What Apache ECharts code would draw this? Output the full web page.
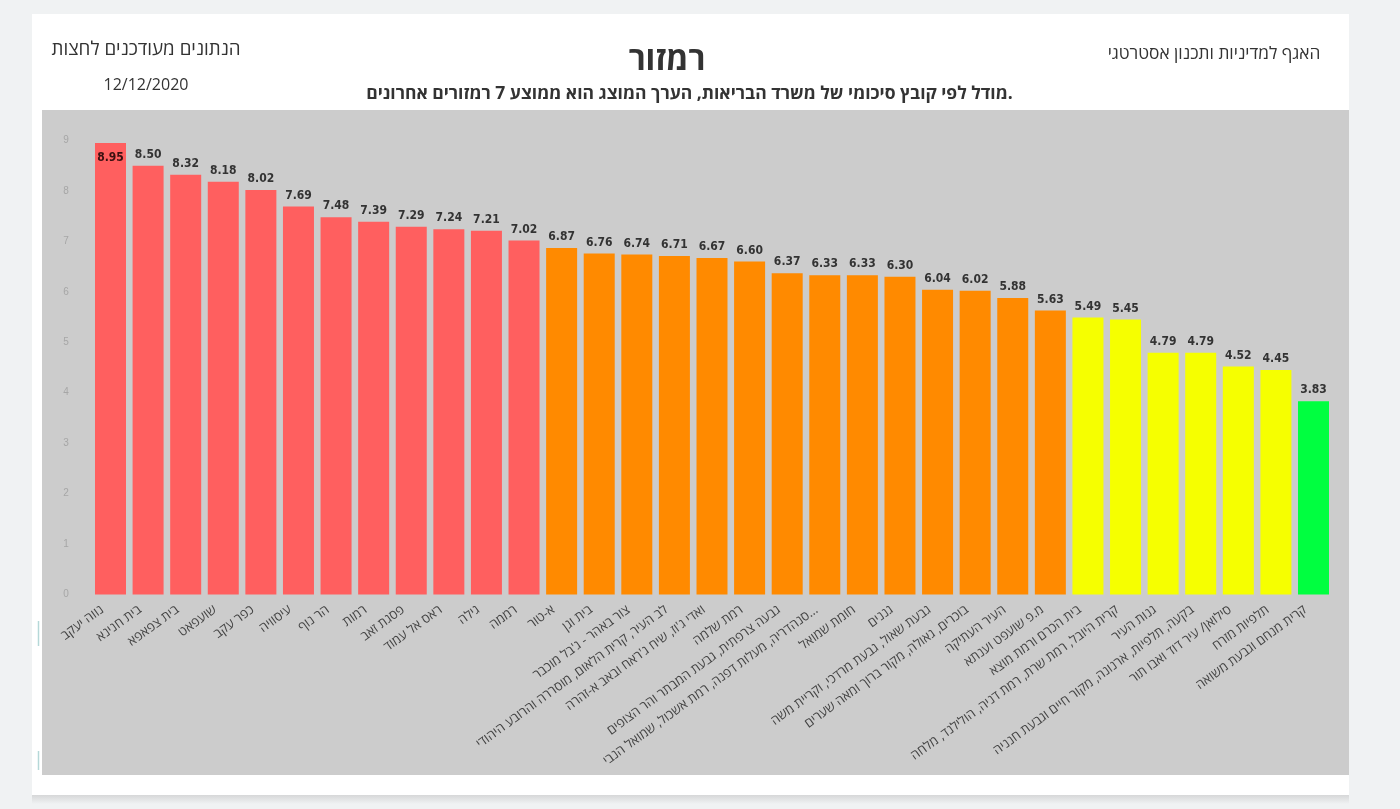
<!DOCTYPE html>
<html>
<head>
<meta charset="utf-8">
<script src="https://cdn.jsdelivr.net/npm/echarts@6/dist/echarts.min.js"></script>
<style>
html, body { margin: 0; padding: 0; background: #f0f2f3; }
#container { width: 1400px; height: 809px; }
</style>
</head>
<body>
<div id="container"></div>
<script>
/*שכונות*/
var neighborhoods = [
    "נווה יעקב", "בית חנינא", "בית צפאפא", "שועפאט", "כפר עקב", "עיסוויה",
    "הר נוף", "רמות", "פסגת זאב", "ראס אל עמוד", "גילה", "רממה",
    "א-טור", "בית וגן", "צור באהר - ג'בל מוכבר",
    "לב העיר, קרית הלאום, מוסררה והרובע היהודי",
    "ואדי ג'וז, שיח ג'ראח ובאב א-זהרה", "רמת שלמה",
    "גבעה צרפתית, גבעת המבתר והר הצופים",
    "סנהדריה, מעלות דפנה, רמת אשכול, שמואל הנבי...",
    "חומת שמואל", "גננים", "גבעת שאול, גבעת מרדכי, וקריית משה",
    "בוכרים, גאולה, מקור ברוך ומאה שערים", "העיר העתיקה", "מ.פ שועפט וענתא",
    "בית הכרם ורמת מוצא", "קרית היובל, רמת שרת, רמת דניה, הולילנד, מלחה",
    "גנות העיר", "בקעה, תלפיות, ארנונה, מקור חיים וגבעת חנניה",
    "סילואן/ עיר דוד ואבו תור", "תלפיות מזרח", "קרית מנחם וגבעת משואה"
];
/*ציון רמזור*/
var scores = [
    8.95, 8.50, 8.32, 8.18, 8.02, 7.69, 7.48, 7.39, 7.29, 7.24, 7.21, 7.02,
    6.87, 6.76, 6.74, 6.71, 6.67, 6.60, 6.37, 6.33, 6.33, 6.30, 6.04, 6.02,
    5.88, 5.63, 5.49, 5.45, 4.79, 4.79, 4.52, 4.45, 3.83
];
var yTicks = [0, 9];

var labelFont = '"DejaVu Sans Condensed", Roboto, sans-serif';
var hebrewFont = '"Open Sans", "Liberation Sans", sans-serif';

function scoreColor(v) {
    if (v >= 7) return '#ff5f5f';
    if (v >= 5.5) return '#ff8a00';
    if (v >= 4) return '#f6ff00';
    return '#00ff40';
}

var barData = scores.map(function (v, i) {
    var item = { value: v, itemStyle: { color: scoreColor(v) } };
    /*העמודה הראשונה - התווית בתוך העמודה*/
    if (i === 0) {
        item.label = { position: 'insideTop', distance: 9, color: '#3a1010' };
    }
    return item;
});

/*סימני הטורקיז בשוליים*/
function edgeMark(y1, y2) {
    return {
        type: 'line', z: -1,
        shape: { x1: 38.5, y1: y1, x2: 38.5, y2: y2 },
        style: { stroke: '#b5d8d8', lineWidth: 1.5 }
    };
}

var myChart = echarts.init(document.getElementById('container'));

var option = {
    animation: false,
    backgroundColor: '#f0f2f3',
    graphic: [
        {
            type: 'rect', z: -3,
            shape: { x: 32, y: 795, width: 1317, height: 9 },
            style: {
                fill: new echarts.graphic.LinearGradient(0, 0, 0, 1, [
                    { offset: 0, color: '#d6d7d8' },
                    { offset: 1, color: '#f0f2f3' }
                ])
            }
        },
        { type: 'rect', z: -2, shape: { x: 32, y: 14, width: 1317, height: 781 }, style: { fill: '#fff' } },
        { type: 'rect', z: -1, shape: { x: 42, y: 110, width: 1307, height: 665 }, style: { fill: '#cccccc' } },
        edgeMark(621, 646),
        edgeMark(751, 770)
    ],
    title: [
        {
            text: 'רמזור', left: 662, top: 40, textAlign: 'center',
            textStyle: { fontFamily: hebrewFont, fontSize: 32, fontWeight: 'bold', color: '#333' }
        },
        {
            text: 'מודל לפי קובץ סיכומי של משרד הבריאות, הערך המוצג הוא ממוצע 7 רמזורים אחרונים.',
            left: 684.5, top: 80, textAlign: 'center',
            textStyle: { fontFamily: hebrewFont, fontSize: 17.5, fontWeight: 'bold', color: '#333' }
        },
        {
            text: 'הנתונים מעודכנים לחצות', left: 141, top: 35, textAlign: 'center',
            textStyle: { fontFamily: hebrewFont, fontSize: 18.8, fontWeight: 'normal', color: '#333' }
        },
        {
            text: '12/12/2020', left: 141, top: 72, textAlign: 'center',
            textStyle: { fontFamily: hebrewFont, fontSize: 16, fontWeight: 'normal', color: '#333' }
        },
        {
            text: 'האגף למדיניות ותכנון אסטרטגי', left: 1209, top: 41, textAlign: 'center',
            textStyle: { fontFamily: hebrewFont, fontSize: 17.3, fontWeight: 'normal', color: '#333' }
        }
    ],
    grid: { left: 91.7, top: 140.5, width: 1240.6, height: 454, containLabel: false },
    xAxis: {
        type: 'category',
        data: neighborhoods,
        axisLine: { show: false },
        axisTick: { show: false },
        axisLabel: {
            interval: 0, rotate: 36, margin: 8,
            padding: [0, 10, 0, 0],
            fontFamily: hebrewFont, fontSize: 13, color: '#444'
        }
    },
    yAxis: {
        type: 'value',
        min: yTicks[0],
        max: yTicks[1],
        interval: 1,
        axisLine: { show: false },
        axisTick: { show: false },
        splitLine: { show: false },
        axisLabel: { margin: 23, fontSize: 10, color: '#a6a6a6' }
    },
    series: [{
        type: 'bar',
        barWidth: 31,
        data: barData,
        label: {
            show: true,
            position: 'top',
            distance: 5,
            formatter: function (p) { return p.value.toFixed(2); },
            fontFamily: labelFont,
            fontWeight: 'bold',
            fontSize: 12,
            color: '#333'
        }
    }]
};

myChart.setOption(option);
</script>
</body>
</html>
